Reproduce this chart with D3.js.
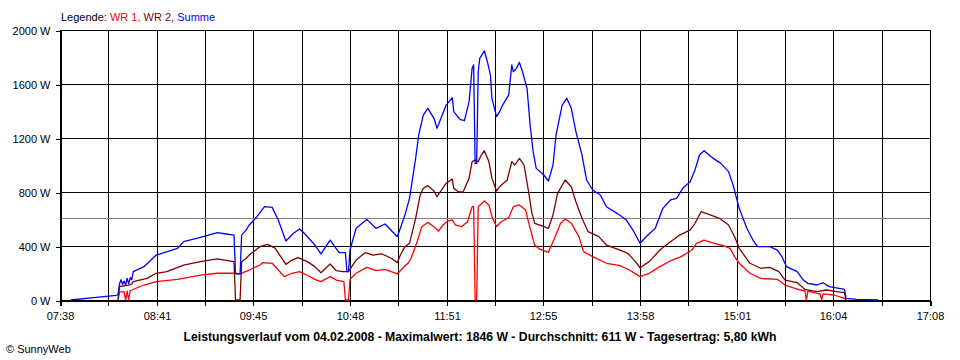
<!DOCTYPE html>
<html><head><meta charset="utf-8">
<script src="https://cdn.jsdelivr.net/npm/d3@7"></script>
<style>
html,body{margin:0;padding:0;background:#fff;}
svg{display:block;font-family:"Liberation Sans",Arial,sans-serif;}
</style></head>
<body>
<svg id="chart" width="960" height="360"></svg>
<script>
// ---- data ----
const xTickLabels = ["07:38","08:41","09:45","10:48","11:51","12:55","13:58","15:01","16:04","17:08"];
const yTickValues = [0,400,800,1200,1600,2000];
const seriesNames = ["WR 1","WR 2","Summe"];
const average = 611;
const titleText = "Leistungsverlauf vom 04.02.2008 - Maximalwert: 1846 W - Durchschnitt: 611 W - Tagesertrag: 5,80 kWh";

const wr1 = [["08:16",0],["08:17",60],["08:20",60],["08:21",0],["08:22",65],["08:23",0],["08:24",70],["08:25",74],
["08:33",111],["08:41",136],["08:55",153],["09:10",185],["09:21",198],["09:32",198],["09:36",193],["09:42",222],
["09:49",259],["09:51",277],["09:57",272],["10:01",222],["10:05",173],["10:10",198],["10:15",210],["10:21",178],
["10:25",153],["10:29",136],["10:35",173],["10:39",148],["10:44",136],["10:45",0],["10:47",0],["10:48",153],
["10:52",198],["10:59",242],["11:05",217],["11:11",227],["11:19",193],["11:23",242],["11:26",272],["11:28",309],
["11:32",432],["11:35",543],["11:39",575],["11:43",543],["11:46",511],["11:49",556],["11:52",585],["11:55",593],
["11:57",556],["12:01",543],["12:05",580],["12:08",691],["12:09",691],["12:10",0],["12:11",0],["12:12",691],
["12:16",733],["12:19",704],["12:21",617],["12:24",543],["12:27",580],["12:32",610],["12:35",691],["12:39",704],
["12:43",667],["12:46",531],["12:49",407],["12:52",378],["12:58",353],["13:02",457],["13:06",568],["13:09",600],
["13:13",568],["13:18",469],["13:21",358],["13:27",321],["13:36",272],["13:45",254],["13:51",222],["13:58",173],
["14:04",198],["14:11",247],["14:19",296],["14:25",321],["14:32",370],["14:35",420],["14:40",444],["14:45",425],
["14:53",400],["14:57",383],["15:00",321],["15:03",272],["15:10",198],["15:17",160],["15:28",153],["15:33",111],
["15:43",74],["15:46",70],["15:47",0],["15:48",65],["15:54",49],["15:56",45],["15:57",0],["15:58",45],
["16:05",37],["16:12",12],["16:13",0]];

const wr2 = [["08:16",0],["08:17",100],["08:20",105],["08:23",110],["08:25",120],["08:26",136],["08:35",160],
["08:41",198],["08:48",210],["08:59",259],["09:10",284],["09:21",304],["09:32",284],["09:33",0],["09:36",0],
["09:37",284],["09:40",309],["09:42",333],["09:49",395],["09:54",412],["09:59",383],["10:06",264],["10:10",296],
["10:14",314],["10:20",284],["10:25",247],["10:29",202],["10:35",267],["10:39",217],["10:43",210],["10:47",210],
["10:52",296],["10:58",351],["11:03",333],["11:09",341],["11:15",309],["11:19",277],["11:21",333],["11:24",395],
["11:27",420],["11:31",605],["11:34",778],["11:36",827],["11:39",847],["11:43",807],["11:45",765],["11:48",815],
["11:51",864],["11:55",896],["11:56",827],["11:59",802],["12:02",798],["12:06",901],["12:08",1025],["12:10",1037],
["12:12",1025],["12:14",1074],["12:16",1106],["12:19",1025],["12:21",901],["12:24",807],["12:26",839],
["12:31",889],["12:34",1025],["12:36",1000],["12:39",1049],["12:42",1000],["12:45",802],["12:47",654],
["12:49",568],["12:52",556],["12:58",531],["13:01",630],["13:04",790],["13:09",889],["13:13",839],["13:16",728],
["13:20",605],["13:24",506],["13:31",469],["13:36",407],["13:45",370],["13:50",346],["13:55",284],["13:58",239],
["14:04",284],["14:11",370],["14:18",432],["14:24",481],["14:31",519],["14:34",568],["14:38",654],["14:44",630],
["14:50",605],["14:56",556],["15:00",469],["15:03",383],["15:10",272],["15:17",235],["15:23",242],["15:29",210],
["15:33",148],["15:41",128],["15:46",79],["15:54",62],["16:00",74],["16:07",62],["16:12",54],["16:13",0]];

const summe = [["07:45",0],["08:00",17],["08:15",35],["08:16",40],["08:17",120],["08:18",150],["08:19",115],
["08:20",140],["08:21",110],["08:22",160],["08:23",120],["08:24",165],["08:25",150],["08:26",210],["08:33",247],
["08:41",333],["08:55",383],["08:59",432],["09:10",464],["09:21",499],["09:27",489],["09:32",481],["09:33",193],
["09:36",193],["09:37",481],["09:40",519],["09:42",556],["09:47",617],["09:52",691],["09:57",686],["10:01",593],
["10:06",437],["10:11",494],["10:15",526],["10:18",494],["10:25",407],["10:29",341],["10:35",444],["10:38",395],
["10:41",351],["10:45",351],["10:46",210],["10:47",210],["10:48",370],["10:52",531],["10:59",597],["11:05",531],
["11:11",563],["11:19",469],["11:21",531],["11:24",630],["11:27",753],["11:31",1049],["11:33",1222],["11:36",1370],
["11:39",1420],["11:43",1346],["11:45",1272],["11:48",1358],["11:51",1444],["11:55",1499],["11:56",1395],
["12:00",1338],["12:03",1328],["12:06",1469],["12:08",1716],["12:09",1741],["12:10",1012],["12:11",1012],
["12:12",1691],["12:13",1790],["12:15",1827],["12:16",1846],["12:18",1765],["12:20",1667],["12:21",1494],
["12:24",1358],["12:26",1395],["12:28",1444],["12:32",1519],["12:34",1741],["12:35",1691],["12:37",1716],
["12:39",1760],["12:41",1691],["12:44",1568],["12:46",1296],["12:48",1099],["12:50",975],["12:55",926],
["12:58",881],["13:01",1000],["13:03",1222],["13:07",1444],["13:10",1494],["13:13",1420],["13:16",1247],
["13:20",1074],["13:23",889],["13:27",815],["13:32",778],["13:36",691],["13:43",642],["13:49",593],["13:54",506],
["13:58",420],["14:02",469],["14:08",531],["14:13",679],["14:18",741],["14:22",753],["14:26",827],["14:31",877],
["14:34",963],["14:37",1074],["14:40",1106],["14:46",1049],["14:51",1012],["14:56",951],["14:59",852],
["15:01",765],["15:03",679],["15:08",531],["15:12",444],["15:15",395],["15:23",395],["15:28",370],["15:31",321],
["15:34",247],["15:41",210],["15:45",148],["15:48",123],["15:54",111],["15:58",128],["16:02",99],["16:12",79],
["16:13",12],["16:20",5],["16:34",0]];

// ---- drawing ----
const toMin = s => { const [h,m] = s.split(":").map(Number); return h*60+m; };
const svg = d3.select("#chart");
const L = 60, R = 930, T = 30, B = 300;
const x = d3.scaleLinear().domain([toMin(xTickLabels[0]), toMin(xTickLabels[xTickLabels.length-1])]).range([L, R]);
const y = d3.scaleLinear().domain([0, 2000]).range([B, T]);

const nSub = (xTickLabels.length-1)*2;
const xTicks = d3.range(nSub+1).map(i => x.domain()[0] + i*(x.domain()[1]-x.domain()[0])/nSub);

// grid
const grid = svg.append("g").attr("shape-rendering","crispEdges").attr("stroke","#000").attr("stroke-width",1);
grid.selectAll("line.v").data(xTicks).join("line").attr("class","v")
  .attr("x1", d => Math.round(x(d))+0.5).attr("x2", d => Math.round(x(d))+0.5)
  .attr("y1", T).attr("y2", B);
grid.selectAll("line.h").data(yTickValues).join("line").attr("class","h")
  .attr("x1", L).attr("x2", R+1)
  .attr("y1", d => Math.round(y(d))+0.5).attr("y2", d => Math.round(y(d))+0.5);

// average line
svg.append("line").attr("shape-rendering","crispEdges")
  .attr("x1", L).attr("x2", R)
  .attr("y1", Math.round(y(average))+0.5).attr("y2", Math.round(y(average))+0.5)
  .attr("stroke","#808080");

// axes
const xAxis = d3.axisBottom(x).tickValues(xTicks).tickSize(5).tickPadding(7)
  .tickFormat((d,i) => i%2===0 ? xTickLabels[i/2] : "");
const gx = svg.append("g").attr("transform",`translate(0.5,${B+0.5})`).call(xAxis);
const yAxis = d3.axisLeft(y).tickValues(yTickValues).tickSize(5).tickPadding(5).tickFormat(d => d + " W");
const gy = svg.append("g").attr("transform",`translate(${L+0.5},0.5)`).call(yAxis);
[gx, gy].forEach(g => {
  g.selectAll("path.domain").attr("stroke","#000").attr("shape-rendering","crispEdges");
  g.selectAll(".tick line").attr("stroke","#000").attr("shape-rendering","crispEdges");
  g.selectAll("text").attr("fill","#000").style("font-size","11px").style("font-family",'"Liberation Sans",Arial,sans-serif');
});
gx.selectAll(".tick").each(function(d){ d3.select(this).attr("transform",`translate(${Math.round(x(d))},0)`); });

// lines
const line = d3.line().x(d => x(toMin(d[0]))).y(d => y(d[1]));
const series = [[wr1,"#ff0000"],[wr2,"#800000"],[summe,"#0000ff"]];
series.forEach(([data,color]) => {
  svg.append("path").datum(data).attr("d", line)
    .attr("fill","none").attr("stroke",color).attr("stroke-width",1.3).attr("stroke-linejoin","round");
});

// legend
const leg = svg.append("text").attr("x",61).attr("y",21).style("font-size","11px");
leg.append("tspan").attr("fill","#000").text("Legende: ");
leg.append("tspan").attr("fill","#ff0000").text(seriesNames[0] + ",");
leg.append("tspan").attr("fill","#800000").text(" " + seriesNames[1] + ",");
leg.append("tspan").attr("fill","#0000ff").text(" " + seriesNames[2]);

// title
svg.append("text").attr("x",480).attr("y",341).attr("text-anchor","middle")
  .attr("textLength",593).attr("lengthAdjust","spacingAndGlyphs")
  .style("font-size","12px").style("font-weight","bold").attr("fill","#000").text(titleText);

// copyright
svg.append("text").attr("x",6).attr("y",353).style("font-size","11px").attr("fill","#000").text("© SunnyWeb");
</script>
</body></html>
